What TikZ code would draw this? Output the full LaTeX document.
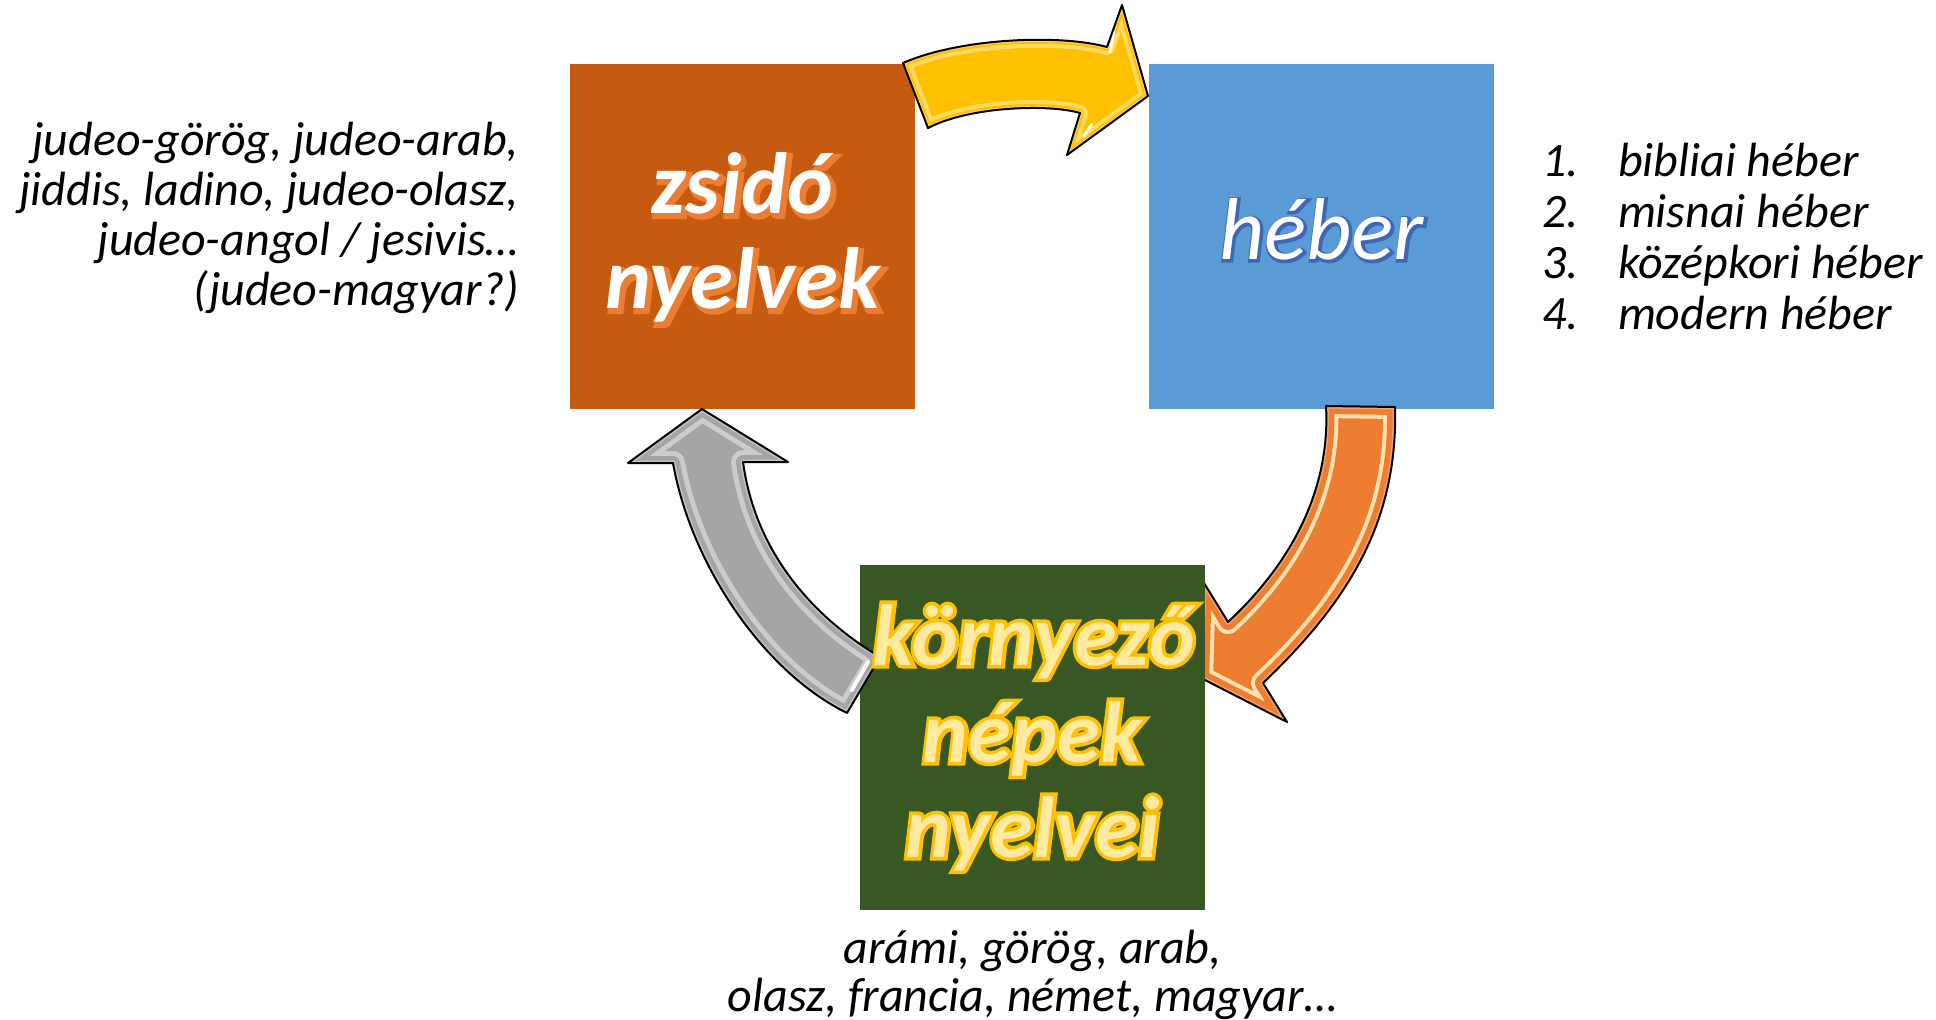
\documentclass[tikz,border=0pt]{standalone}
\usepackage{fontspec}
\setmainfont{Carlito}
\newfontfamily\fbthin[FakeBold=5]{Carlito}
\newfontfamily\fbmid[FakeBold=6]{Carlito}
\newfontfamily\fbthick[FakeBold=8]{Carlito}
\definecolor{boxorange}{HTML}{C55A11}
\definecolor{boxblue}{HTML}{5B9BD5}
\definecolor{boxgreen}{HTML}{385723}
\definecolor{arryellow}{HTML}{FFC000}
\definecolor{arrorange}{HTML}{ED7D31}
\definecolor{arrgray}{HTML}{A5A5A5}
\definecolor{shadeorange}{HTML}{ED7D31}
\definecolor{glowblue}{HTML}{3D68B8}
\definecolor{goldline}{HTML}{FFC000}
\definecolor{paleyellow}{HTML}{FFEAA0}
\definecolor{creamstripe}{HTML}{FFE2B0}
\definecolor{graystripe}{HTML}{D6D6D6}
\definecolor{yellowstripe}{HTML}{FFE37A}

% #1 effect font, #2 dx, #3 dy, #4 effect colour, #5 fill colour, #6 text
\newcommand\efftext[6]{%
  \leavevmode
  \rlap{\hspace*{#2}\raisebox{#3}{#1\textcolor{#4}{#6}}}%
  \textcolor{#5}{#6}}

\newcommand\smalltxt{\fontsize{48}{50}\selectfont\itshape}
\newcommand\bigtxt{\fontsize{87}{95}\selectfont\bfseries\itshape}
\newcommand\bigreg{\fontsize{88}{95}\selectfont\itshape}

\def\yarrow{(903,63) .. controls (960,38) and (1060,34) .. (1107,47) -- (1122,5) -- (1148,96) -- (1067,155) -- (1080,113) .. controls (1050,104) and (970,106) .. (928,128) -- cycle}
\def\oarrow{(1326,406) -- (1395,407) .. controls (1398,520) and (1350,600) .. (1263,683) -- (1287,722) -- (1201,678) -- (1204,583) -- (1228,622) .. controls (1300,555) and (1330,480) .. (1326,406) -- cycle}
\def\garrow{(702,409) -- (788,462) -- (743,462) .. controls (755,550) and (810,615) .. (880,657) -- (847,713) .. controls (760,670) and (690,560) .. (673,463) -- (628,463) -- cycle}

\tikzset{
  box/.style={minimum width=345pt, minimum height=345pt, inner sep=0pt, outer sep=0pt, draw=none},
  lbl/.style={inner sep=0pt, outer sep=0pt, font=\smalltxt, text=black},
  bigl/.style={inner sep=0pt, outer sep=0pt, anchor=base},
  arrline/.style={draw=black, line width=2pt, line join=round},
}

\begin{document}
\begin{tikzpicture}[x=1pt, y=-1pt]
\useasboundingbox (0,0) rectangle (1936,1020);
\fill[white] (0,0) rectangle (1936,1020);

% boxes
\node[box, fill=boxorange] (zsido) at (742.5,236.5) {};
\node[box, fill=boxblue] (heber) at (1321.5,236.5) {};

% yellow arrow
\fill[arryellow] \yarrow;
\begin{scope}
  \clip \yarrow;
  \draw[yellowstripe, opacity=0.8, line width=16pt, line join=round] \yarrow;
  \draw[arryellow, line width=8pt, line join=round] \yarrow;
  \draw[white, opacity=0.35, line width=4pt, line join=round] \yarrow;
\end{scope}
\draw[white, line width=3pt, line cap=round, opacity=0.9] (1114,32) -- (1110,52);
\draw[white, line width=3pt, line cap=round, opacity=0.9] (1092,124) -- (1084,136);
\draw[arrline] \yarrow;

% orange arrow
\fill[arrorange] \oarrow;
\begin{scope}
  \clip \oarrow;
  \draw[creamstripe, line width=24pt, line join=round] \oarrow;
  \draw[arrorange, line width=16pt, line join=round] \oarrow;
  \draw[white, opacity=0.3, line width=5pt, line join=round] \oarrow;
\end{scope}
\draw[arrline] \oarrow;

% green box
\node[box, fill=boxgreen] (korny) at (1032.5,737.5) {};

% gray arrow
\fill[arrgray] \garrow;
\begin{scope}
  \clip \garrow;
  \draw[graystripe, opacity=0.8, line width=24pt, line join=round] \garrow;
  \draw[arrgray, line width=14pt, line join=round] \garrow;
  \draw[white, opacity=0.35, line width=5pt, line join=round] \garrow;
\end{scope}
\draw[white, line width=4pt, line cap=round, opacity=0.9] (868,662) -- (852,690);
\draw[arrline] \garrow;

% box texts
\node[bigl, font=\bigtxt] (zs1) at (742.5,213) {\efftext{\fbmid}{3pt}{-3.5pt}{shadeorange}{white}{zsidó}};
\node[bigl, font=\bigtxt] (zs2) at (742.5,308) {\efftext{\fbmid}{3pt}{-3.5pt}{shadeorange}{white}{nyelvek}};
\node[bigl, font=\bigreg] (hb1) at (1321.5,259) {\efftext{\fbthin}{1pt}{-1.5pt}{glowblue}{white}{héber}};
\node[bigl, font=\bigtxt] (kn1) at (1034,665) {\efftext{\fbthick}{0pt}{0pt}{goldline}{paleyellow}{környező}};
\node[bigl, font=\bigtxt] (kn2) at (1032.5,762) {\efftext{\fbthick}{0pt}{0pt}{goldline}{paleyellow}{népek}};
\node[bigl, font=\bigtxt] (kn3) at (1032.5,857) {\efftext{\fbthick}{0pt}{0pt}{goldline}{paleyellow}{nyelvei}};

% left text
\node[lbl, anchor=base east] (l1) at (519,155) {judeo-görög, judeo-arab,};
\node[lbl, anchor=base east] (l2) at (519,205) {jiddis, ladino, judeo-olasz,};
\node[lbl, anchor=base east] (l3) at (519,255) {judeo-angol / jesivis…};
\node[lbl, anchor=base east] (l4) at (519,305) {(judeo-magyar?)};

% right list
\node[lbl, anchor=base west] (n1) at (1542,176) {1.};
\node[lbl, anchor=base west] (n2) at (1542,227) {2.};
\node[lbl, anchor=base west] (n3) at (1542,278) {3.};
\node[lbl, anchor=base west] (n4) at (1542,329) {4.};
\node[lbl, anchor=base west] (r1) at (1618,176) {bibliai héber};
\node[lbl, anchor=base west] (r2) at (1618,227) {misnai héber};
\node[lbl, anchor=base west] (r3) at (1618,278) {középkori héber};
\node[lbl, anchor=base west] (r4) at (1618,329) {modern héber};

% bottom text
\node[lbl, anchor=base] (b1) at (1032.5,963) {arámi, görög, arab,};
\node[lbl, anchor=base] (b2) at (1032.5,1011) {olasz, francia, német, magyar…};
\end{tikzpicture}
\end{document}
